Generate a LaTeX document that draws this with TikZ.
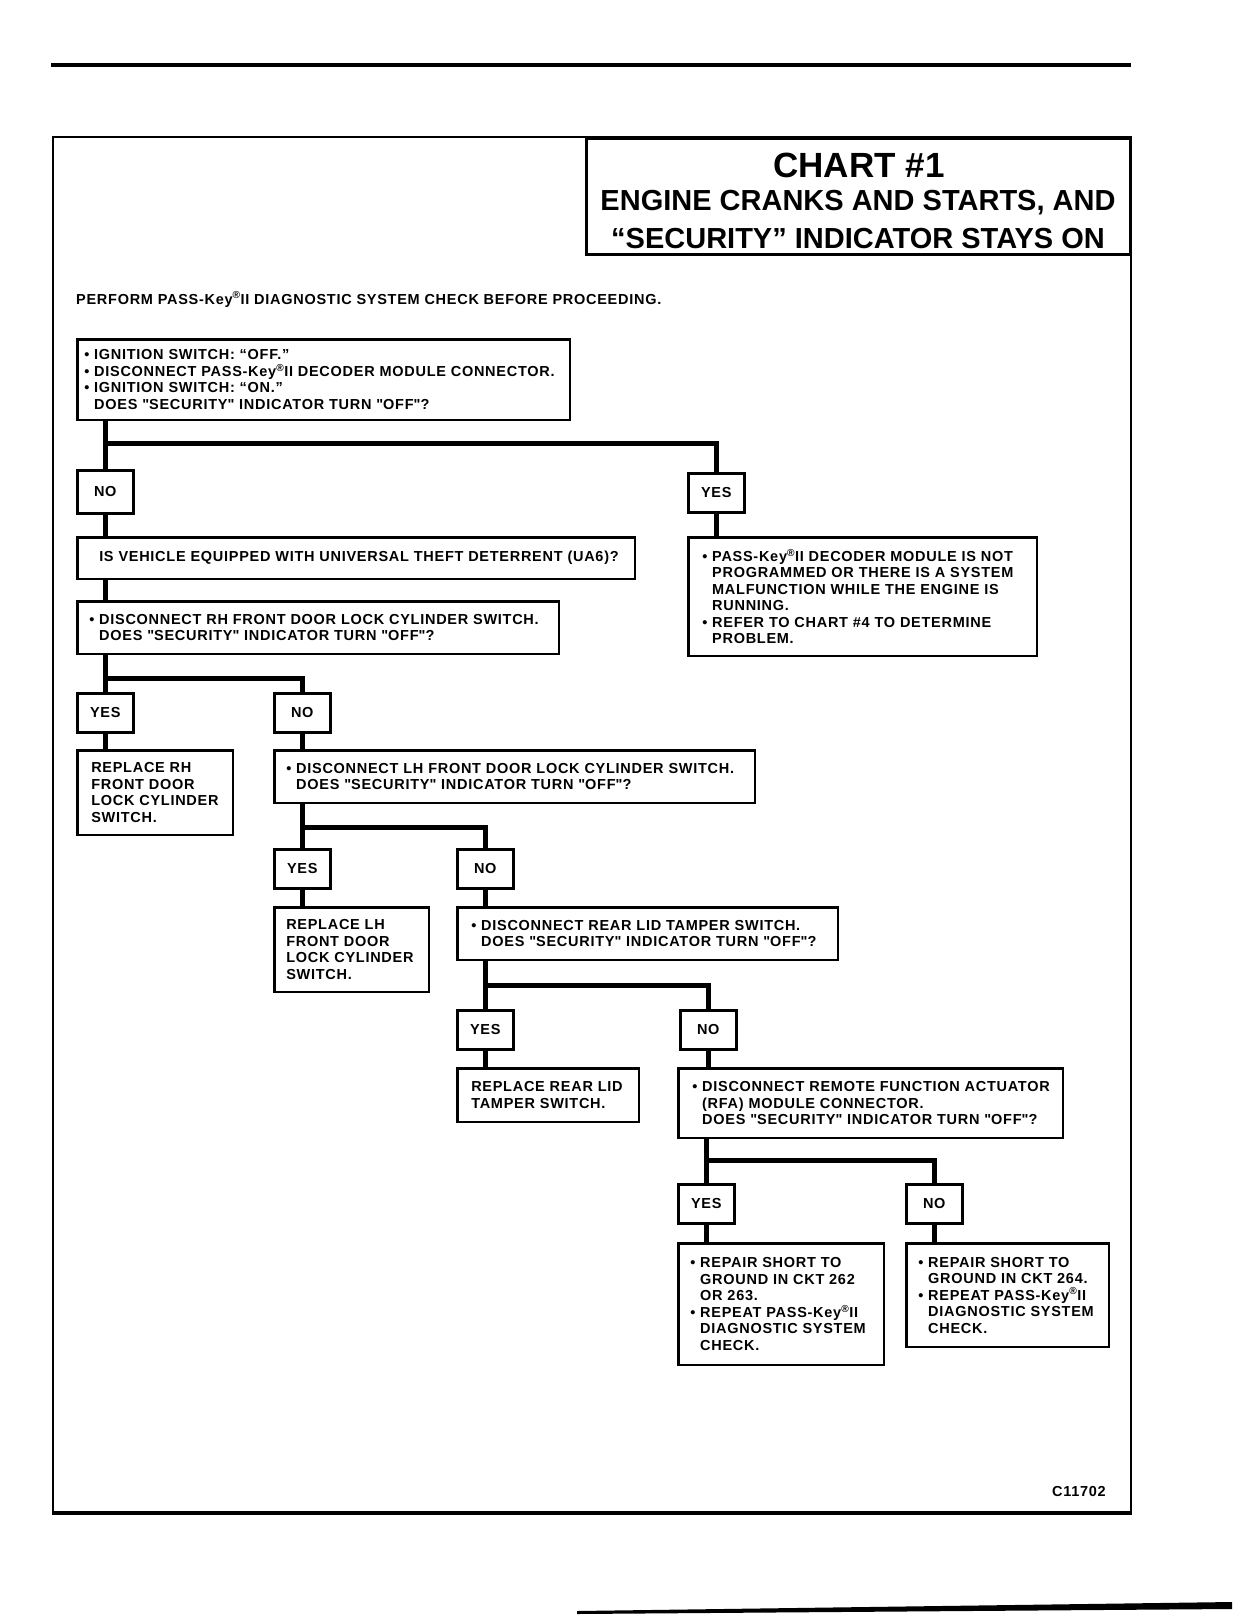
\documentclass[tikz,border=0pt]{standalone}
\usepackage{fontspec}
\setmainfont{Liberation Sans}
\newfontfamily\boxfont{Liberation Sans}[LetterSpace=5]
\usepackage{tikz}
\usetikzlibrary{positioning}
\tikzstyle{qbox}=[draw,rectangle,line width=2.5pt,anchor=north west,align=left,inner xsep=12pt,inner ysep=0pt,execute at begin node={\rightskip=0pt plus 1fil minus 60pt}]
\tikzstyle{ans}=[draw,rectangle,line width=2.5pt,anchor=north west,minimum width=56pt,minimum height=39pt,inner sep=0pt]
\tikzstyle{conn}=[line width=5pt]
\newcommand{\bul}{\textbullet\ }
\newcommand{\ind}{\phantom{\textbullet\ }}
\newcommand{\PK}{PASS-Key\textsuperscript{®}II}
\newcommand{\qq}[1]{\textquotedbl#1\textquotedbl}
\begin{document}
\begin{tikzpicture}
	[x=1pt,y=-1pt,font=\boxfont\fontsize{14.5}{16.5}\selectfont\bfseries]
	\tikzstyle{head}=[anchor=base,inner sep=0pt,font=\normalfont\fontsize{29}{30}\selectfont\bfseries];
	\useasboundingbox (0,0) rectangle (1232,1616);
	\fill (51,63) rectangle (1131,67);
	\draw[line width=2.5pt] (53,137) rectangle (1131,1513);
	\draw[line width=4pt] (52,1513) -- (1132,1513);
	\fill (577,1611) -- (1232,1602) -- (1232,1609) -- (577,1614) -- cycle;
	\node (title) at (585,138) [draw,line width=2.5pt,anchor=north west,minimum width=544pt,minimum height=115pt] {};
	\node (chart) at (859,177.5) [head,font=\normalfont\fontsize{35}{35}\selectfont\bfseries] {CHART \#1};
	\node (sub1) at (858,211) [head] {ENGINE CRANKS AND STARTS, AND};
	\node (sub2) at (858,248) [head] {“SECURITY” INDICATOR STAYS ON};
	\node (perf) at (76,304) [anchor=base west,inner sep=0pt] {PERFORM \PK\ DIAGNOSTIC SYSTEM CHECK BEFORE PROCEEDING.};
	\node (code) at (1106,1496) [anchor=base east,inner sep=0pt] {C11702};
	\coordinate (br1) at (0,443);
	\coordinate (br2) at (0,678);
	\coordinate (br3) at (0,827);
	\coordinate (br4) at (0,985);
	\coordinate (br5) at (0,1160);
	\node (q1) at (76,338) [qbox,inner xsep=7pt,text width=478.5pt,minimum height=80.5pt]
		{\bul IGNITION SWITCH: “OFF.”\\ \bul DISCONNECT \PK\ DECODER MODULE CONNECTOR.\\ \bul IGNITION SWITCH: “ON.”\\ \ind DOES \qq{SECURITY} INDICATOR TURN \qq{OFF}?};
	\node (no1) at (76,469) [ans,minimum height=43pt] {NO};
	\node (yes1) at (687,472) [ans] {YES};
	\node (ua6) at (76,536) [qbox,inner xsep=22pt,text width=513.5pt,minimum height=41.5pt]
		{IS VEHICLE EQUIPPED WITH UNIVERSAL THEFT DETERRENT (UA6)?};
	\node (pass) at (687,536) [qbox,inner xsep=14pt,text width=320.5pt,minimum height=118.5pt]
		{\bul \PK\ DECODER MODULE IS NOT\\ \ind PROGRAMMED OR THERE IS A SYSTEM\\ \ind MALFUNCTION WHILE THE ENGINE IS\\ \ind RUNNING.\\ \bul REFER TO CHART \#4 TO DETERMINE\\ \ind PROBLEM.};
	\node (rh) at (76,600) [qbox,text width=457.5pt,minimum height=52.5pt]
		{\bul DISCONNECT RH FRONT DOOR LOCK CYLINDER SWITCH.\\ \ind DOES \qq{SECURITY} INDICATOR TURN \qq{OFF}?};
	\node (yes2) at (76,692) [ans] {YES};
	\node (no2) at (273,692) [ans] {NO};
	\node (reprh) at (76,749) [qbox,inner xsep=14pt,text width=127.5pt,minimum height=84.5pt]
		{REPLACE RH\\ FRONT DOOR\\ LOCK CYLINDER\\ SWITCH.};
	\node (lh) at (273,749) [qbox,text width=456.5pt,minimum height=52.5pt]
		{\bul DISCONNECT LH FRONT DOOR LOCK CYLINDER SWITCH.\\ \ind DOES \qq{SECURITY} INDICATOR TURN \qq{OFF}?};
	\node (yes3) at (273,848) [ans] {YES};
	\node (no3) at (456,848) [ans] {NO};
	\node (replh) at (273,906) [qbox,text width=130.5pt,minimum height=84.5pt]
		{REPLACE LH\\ FRONT DOOR\\ LOCK CYLINDER\\ SWITCH.};
	\node (rear) at (456,906) [qbox,inner xsep=14pt,text width=352.5pt,minimum height=52.5pt]
		{\bul DISCONNECT REAR LID TAMPER SWITCH.\\ \ind DOES \qq{SECURITY} INDICATOR TURN \qq{OFF}?};
	\node (yes4) at (456,1009) [ans] {YES};
	\node (no4) at (679,1009) [ans] {NO};
	\node (reprear) at (456,1067) [qbox,inner xsep=14pt,text width=153.5pt,minimum height=53.5pt]
		{REPLACE REAR LID\\ TAMPER SWITCH.};
	\node (rfa) at (677,1067) [qbox,inner xsep=14pt,text width=356.5pt,minimum height=69.5pt]
		{\bul DISCONNECT REMOTE FUNCTION ACTUATOR\\ \ind (RFA) MODULE CONNECTOR.\\ \ind DOES \qq{SECURITY} INDICATOR TURN \qq{OFF}?};
	\node (yes5) at (677,1183) [ans] {YES};
	\node (no5) at (905,1183) [ans] {NO};
	\node (rep1) at (677,1242) [qbox,text width=181.5pt,minimum height=121.5pt]
		{\bul REPAIR SHORT TO\\ \ind GROUND IN CKT 262\\ \ind OR 263.\\ \bul REPEAT \PK\\ \ind DIAGNOSTIC SYSTEM\\ \ind CHECK.};
	\node (rep2) at (905,1242) [qbox,text width=178.5pt,minimum height=103.5pt]
		{\bul REPAIR SHORT TO\\ \ind GROUND IN CKT 264.\\ \bul REPEAT \PK\\ \ind DIAGNOSTIC SYSTEM\\ \ind CHECK.};
	\draw[conn] (q1.south -| no1) -- (no1.north);
	\draw[conn] (br1 -| no1) -| (yes1.north);
	\draw[conn] (no1.south) -- (ua6.north -| no1);
	\draw[conn] (yes1.south) -- (pass.north -| yes1);
	\draw[conn] (ua6.south -| no1) -- (rh.north -| no1);
	\draw[conn] (rh.south -| yes2) -- (yes2.north);
	\draw[conn] (br2 -| yes2) -| (no2.north);
	\draw[conn] (yes2.south) -- (reprh.north -| yes2);
	\draw[conn] (no2.south) -- (lh.north -| no2);
	\draw[conn] (lh.south -| yes3) -- (yes3.north);
	\draw[conn] (br3 -| yes3) -| (no3.north);
	\draw[conn] (yes3.south) -- (replh.north -| yes3);
	\draw[conn] (no3.south) -- (rear.north -| no3);
	\draw[conn] (rear.south -| yes4) -- (yes4.north);
	\draw[conn] (br4 -| yes4) -| (no4.north);
	\draw[conn] (yes4.south) -- (reprear.north -| yes4);
	\draw[conn] (no4.south) -- (rfa.north -| no4);
	\draw[conn] (rfa.south -| yes5) -- (yes5.north);
	\draw[conn] (br5 -| yes5) -| (no5.north);
	\draw[conn] (yes5.south) -- (rep1.north -| yes5);
	\draw[conn] (no5.south) -- (rep2.north -| no5);
\end{tikzpicture}
\end{document}
